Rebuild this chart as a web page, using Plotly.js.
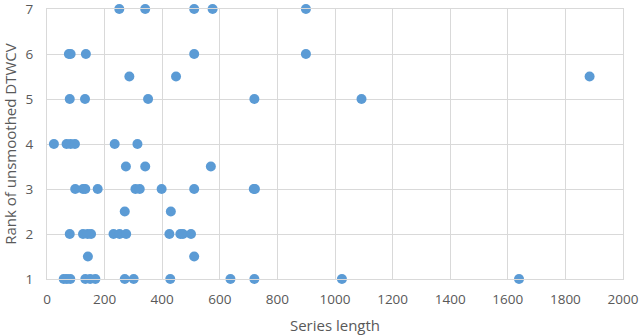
<!DOCTYPE html>
<html>
<head>
<meta charset="utf-8">
<script src="https://cdn.plot.ly/plotly-3.0.1.min.js"></script>
<style>html,body{margin:0;padding:0;background:#fff;}#chart{width:640px;height:335px;}</style>
</head>
<body>
<div id="chart"></div>
<script>
// Series length (x) and rank (y), grouped by rank
const rank7 = [251, 341, 511, 575, 899];
const rank6 = [76, 82, 135, 511, 899];
const rank55 = [286, 448, 1884];
const rank5 = [79, 132, 351, 720, 1092];
const rank4 = [24, 68, 82, 97, 235, 314];
const rank35 = [274, 341, 569];
const rank3 = [98, 125, 133, 176, 307, 322, 398, 511, 718, 722];
const rank25 = [270, 430];
const rank2 = [79, 125, 141, 153, 231, 252, 275, 425, 463, 472, 500];
const rank15 = [142, 511];
const rank1 = [58, 69, 81, 133, 150, 168, 270, 301, 428, 637, 720, 1024, 1639];

const groups = [[7, rank7], [6, rank6], [5.5, rank55], [5, rank5], [4, rank4], [3.5, rank35],
                [3, rank3], [2.5, rank25], [2, rank2], [1.5, rank15], [1, rank1]];
const xs = [], ys = [];
groups.forEach(([r, arr]) => arr.forEach(v => { xs.push(v); ys.push(r); }));

const xTicks = [0, 200, 400, 600, 800, 1000, 1200, 1400, 1600, 1800, 2000];
const yTicks = [1, 2, 3, 4, 5, 6, 7];

const fam = 'Open Sans, Liberation Sans, sans-serif';
const tickFont = {family: fam, size: 13.5, color: '#595959'};
const titleFont = {family: fam, size: 15, color: '#595959'};

Plotly.newPlot('chart', [{
  x: xs, y: ys, type: 'scatter', mode: 'markers',
  marker: {color: '#5b9bd5', size: 10},
  cliponaxis: false, hoverinfo: 'none'
}], {
  width: 640, height: 335,
  margin: {l: 47, r: 17, t: 9, b: 56},
  paper_bgcolor: '#fff', plot_bgcolor: '#fff',
  font: tickFont,
  showlegend: false,
  xaxis: {
    range: [0, 2000], tickvals: xTicks, ticktext: xTicks.map(String),
    showgrid: true, gridcolor: '#d9d9d9', gridwidth: 1,
    zeroline: false, showline: true, linecolor: '#d9d9d9', linewidth: 1, mirror: true,
    ticks: '', tickfont: tickFont, ticklabelstandoff: 8, ticklabeloverflow: 'allow',
    title: {text: 'Series length', font: titleFont, standoff: 13}
  },
  yaxis: {
    range: [1, 7], tickvals: yTicks, ticktext: yTicks.map(String),
    showgrid: true, gridcolor: '#d9d9d9', gridwidth: 1,
    zeroline: false, showline: true, linecolor: '#d9d9d9', linewidth: 1, mirror: true,
    ticks: '', tickfont: tickFont, ticklabelstandoff: 10, ticklabeloverflow: 'allow',
    title: {text: 'Rank of unsmoothed DTWCV', font: titleFont, standoff: 12}
  }
}, {displayModeBar: false, staticPlot: true});
</script>
</body>
</html>
